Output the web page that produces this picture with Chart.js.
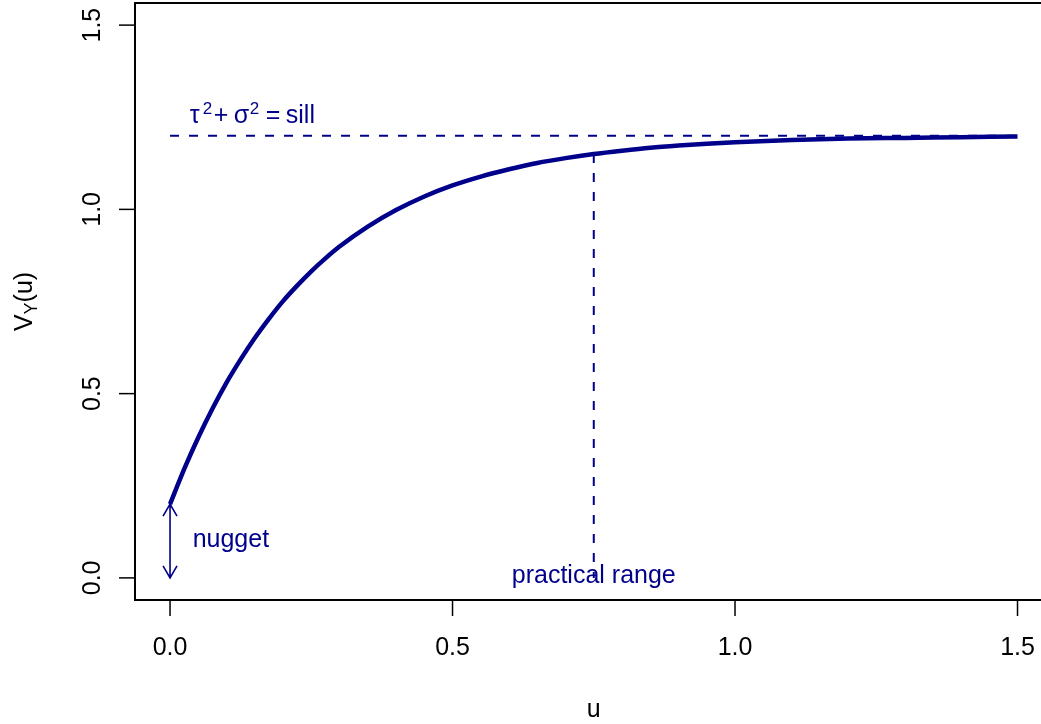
<!DOCTYPE html>
<html>
<head>
<meta charset="utf-8">
<script src="https://cdn.jsdelivr.net/npm/chart.js@4/dist/chart.umd.min.js"></script>
<style>
  body { margin: 0; background: #fff; }
  canvas { display: block; }
</style>
</head>
<body>
<canvas id="vario" width="1041" height="724"></canvas>
<script>
// variogram curve
const lagU = [0, 0.025, 0.05, 0.075, 0.1, 0.125, 0.15, 0.175, 0.2, 0.225, 0.25, 0.275, 0.3, 0.35, 0.4,
              0.45, 0.5, 0.55, 0.6, 0.65, 0.7, 0.75, 0.8, 0.85, 0.9, 0.95, 1.0, 1.1, 1.2, 1.3, 1.4, 1.5];
const semiV = [0.200, 0.295, 0.381, 0.459, 0.530, 0.593, 0.651, 0.703, 0.751, 0.793, 0.832, 0.867, 0.899,
               0.953, 0.998, 1.035, 1.065, 1.089, 1.109, 1.126, 1.139, 1.150, 1.159, 1.167, 1.173, 1.178,
               1.182, 1.188, 1.192, 1.194, 1.196, 1.198];

const nugget = 0.2;
const sill = 1.2;
const practicalRange = 0.75;
const rangeValue = 1.15;

const xTicks = [0, 0.5, 1.0, 1.5];
const xTickLabels = ['0.0', '0.5', '1.0', '1.5'];
const yTicks = [0, 0.5, 1.0, 1.5];
const yTickLabels = ['0.0', '0.5', '1.0', '1.5'];

const BLUE = '#00008B';
const FONT = '"Liberation Sans", Arial, Helvetica, sans-serif';

function font(px) { return px + 'px ' + FONT; }

const rAxes = {
    id: 'rAxes',
    afterDraw(chart) {
        const ctx = chart.ctx;
        const a = chart.chartArea;
        const xs = chart.scales.x, ys = chart.scales.y;
        ctx.save();

        // box (right side falls off the picture)
        ctx.strokeStyle = '#000';
        ctx.lineWidth = 2;
        ctx.beginPath();
        ctx.moveTo(chart.width + 2, a.top);
        ctx.lineTo(a.left, a.top);
        ctx.lineTo(a.left, a.bottom);
        ctx.lineTo(chart.width + 2, a.bottom);
        ctx.stroke();

        // x ticks + labels
        ctx.lineWidth = 1.5;
        ctx.fillStyle = '#000';
        ctx.font = font(25);
        ctx.textAlign = 'center';
        ctx.textBaseline = 'alphabetic';
        xTicks.forEach((v, i) => {
            const px = xs.getPixelForValue(v);
            ctx.beginPath();
            ctx.moveTo(px, a.bottom);
            ctx.lineTo(px, a.bottom + 16);
            ctx.stroke();
            ctx.fillText(xTickLabels[i], px, 655);
        });

        // y ticks + rotated labels
        yTicks.forEach((v, i) => {
            const py = ys.getPixelForValue(v);
            ctx.beginPath();
            ctx.moveTo(a.left, py);
            ctx.lineTo(a.left - 16, py);
            ctx.stroke();
            ctx.save();
            ctx.translate(100, py);
            ctx.rotate(-Math.PI / 2);
            ctx.fillText(yTickLabels[i], 0, 0);
            ctx.restore();
        });

        // x title
        ctx.fillText('u', xs.getPixelForValue(0.75), 717);

        // y title V_Y(u)
        ctx.save();
        ctx.translate(32, (a.top + a.bottom) / 2);
        ctx.rotate(-Math.PI / 2);
        ctx.textAlign = 'left';
        ctx.font = font(25);
        const wV = ctx.measureText('V').width;
        const wP = ctx.measureText('(u)').width;
        ctx.font = font(18);
        const wY = ctx.measureText('Y').width;
        let x0 = -(wV + wY + wP) / 2;
        ctx.font = font(25);
        ctx.fillText('V', x0, 0);
        ctx.font = font(18);
        ctx.fillText('Y', x0 + wV, 5);
        ctx.font = font(25);
        ctx.fillText('(u)', x0 + wV + wY, 0);
        ctx.restore();

        // nugget arrow
        const ax = xs.getPixelForValue(0);
        const ay0 = ys.getPixelForValue(0);
        const ay1 = ys.getPixelForValue(nugget);
        ctx.strokeStyle = BLUE;
        ctx.lineWidth = 1.6;
        ctx.beginPath();
        ctx.moveTo(ax, ay0);
        ctx.lineTo(ax, ay1);
        ctx.moveTo(ax - 7, ay1 + 12);
        ctx.lineTo(ax, ay1);
        ctx.lineTo(ax + 7, ay1 + 12);
        ctx.moveTo(ax - 7, ay0 - 12);
        ctx.lineTo(ax, ay0);
        ctx.lineTo(ax + 7, ay0 - 12);
        ctx.stroke();

        // annotations
        ctx.fillStyle = BLUE;
        ctx.font = font(25);
        ctx.textAlign = 'left';
        ctx.fillText('nugget', xs.getPixelForValue(0.04), 547);
        ctx.textAlign = 'center';
        ctx.fillText('practical range', xs.getPixelForValue(practicalRange), 583);

        // tau^2 + sigma^2 = sill
        ctx.textAlign = 'left';
        const sx = xs.getPixelForValue(0.035);
        const base = 123;
        const pieces = [
            ['\u03C4', 25, 0, 0], ['2', 17, -9, 13], ['+', 25, 0, 24], ['\u03C3', 25, 0, 44],
            ['2', 17, -9, 60], ['=', 25, 0, 76], ['sill', 25, 0, 96]
        ];
        pieces.forEach(p => {
            ctx.font = font(p[1]);
            ctx.fillText(p[0], sx + p[3], base + p[2]);
        });

        ctx.restore();
    }
};

new Chart(document.getElementById('vario'), {
    type: 'line',
    data: {
        datasets: [
            {
                label: 'variogram',
                data: lagU.map((u, i) => ({ x: u, y: semiV[i] })),
                borderColor: BLUE,
                borderWidth: 4.5,
                pointRadius: 0,
                cubicInterpolationMode: 'monotone',
                fill: false
            },
            {
                label: 'sill',
                data: [{ x: 0, y: sill }, { x: 1.5, y: sill }],
                borderColor: BLUE,
                borderWidth: 2,
                borderDash: [9, 10],
                pointRadius: 0
            },
            {
                label: 'range',
                data: [{ x: practicalRange, y: rangeValue }, { x: practicalRange, y: 0 }],
                borderColor: BLUE,
                borderWidth: 2,
                borderDash: [9, 10],
                pointRadius: 0
            }
        ]
    },
    options: {
        responsive: false,
        animation: false,
        layout: { padding: { left: 135, top: 3, right: 1, bottom: 124 } },
        plugins: { legend: { display: false }, tooltip: { enabled: false } },
        scales: {
            x: { type: 'linear', min: -0.062, max: 1.5398, display: false },
            y: { type: 'linear', min: -0.06, max: 1.56, display: false }
        }
    },
    plugins: [rAxes]
});
</script>
</body>
</html>
